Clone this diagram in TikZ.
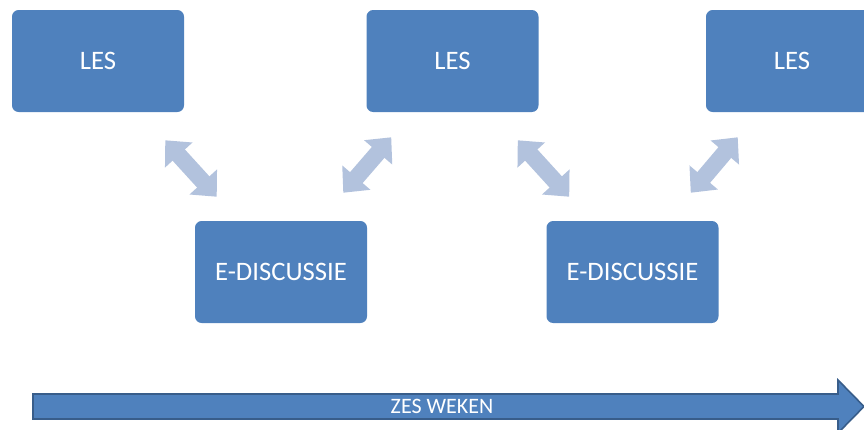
\documentclass[tikz,border=0pt]{standalone}
\usepackage{fontspec}
\setmainfont{Carlito}
\usetikzlibrary{arrows.meta,calc}
\definecolor{boxblue}{RGB}{79,129,189}
\definecolor{edgeblue}{RGB}{56,93,138}
\definecolor{paleblue}{RGB}{178,194,221}
\begin{document}
\begin{tikzpicture}[x = .75pt, y = -.75pt,
    blok/.style = {fill = boxblue, rounded corners = 5pt, minimum width = 129pt,
      minimum height = 76.5pt, text = white, font = \fontsize{20}{24}\selectfont, inner sep = 0pt},
    pijl/.style = {paleblue, line width = 12.5pt,
      {Triangle[width = 27pt, length = 15pt]}-{Triangle[width = 27pt, length = 15pt]}}]
  \useasboundingbox (0,0) rectangle (864,429);
  \node [blok] (les1) at (98,61) {LES};
  \node [blok] (les2) at (452.5,61) {LES};
  \node [blok] (les3) at (792,61) {LES};
  \node [blok] (disc1) at (281,272) {E-DISCUSSIE};
  \node [blok] (disc2) at (632.5,272) {E-DISCUSSIE};
  % dubbele pijlen tussen les en discussie
  \coordinate (a1) at ($(les1.south east) + (-19,28)$);
  \coordinate (b1) at ($(disc1.north west) + (22,-24)$);
  \coordinate (a2) at ($(disc1.north east) + (-24,-28)$);
  \coordinate (b2) at ($(les2.south west) + (25,25)$);
  \coordinate (a3) at ($(les2.south east) + (-21,28)$);
  \coordinate (b3) at ($(disc2.north west) + (23,-24)$);
  \coordinate (a4) at ($(disc2.north east) + (-28,-28)$);
  \coordinate (b4) at ($(les3.south west) + (32,25)$);
  \foreach \i in {1,...,4}
    \draw [pijl] (a\i) -- (b\i);
  % tijdlijn
  \coordinate (tstart) at (33,406.5);
  \coordinate (tend) at (864,406.5);
  \draw [fill = boxblue, draw = edgeblue, line width = 1.2pt]
    ($(tstart) + (0,-12.5)$) -- ($(tend) + (-26,-12.5)$) -- ($(tend) + (-26,-26.5)$)
    -- (tend) -- ($(tend) + (-26,26.5)$) -- ($(tend) + (-26,12.5)$)
    -- ($(tstart) + (0,12.5)$) -- cycle;
  \node [text = white, font = \fontsize{16.5}{20}\selectfont] (weken) at (442,406.5) {ZES WEKEN};
\end{tikzpicture}
\end{document}
